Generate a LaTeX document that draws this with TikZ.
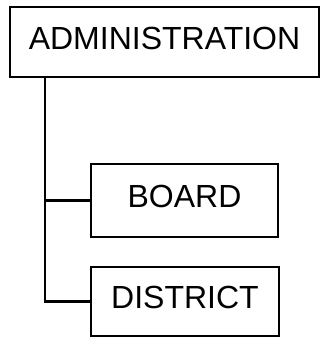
\documentclass[tikz,border=0pt]{standalone}
\usepackage{fontspec}
\setmainfont{Liberation Sans}
\tikzset{
  orgbox/.style={draw=black, line width=2.2pt, inner sep=0pt, font=\fontsize{32}{32}\selectfont, text depth=8pt},
  link/.style={draw=black, line width=2.4pt}
}
\begin{document}
\begin{tikzpicture}[x=1pt,y=-1pt]
\useasboundingbox (0,0) rectangle (321,337);
\node[orgbox, minimum width=309pt, minimum height=70pt] (admin) at (164.5,42) {ADMINISTRATION};
\node[orgbox, minimum width=187pt, minimum height=73pt] (board) at (184.5,200.5) {BOARD};
\node[orgbox, minimum width=188pt, minimum height=69pt] (district) at (185,301.5) {DISTRICT};
\coordinate (trunk) at (45,77);
\draw[link] (trunk) |- (district.west);
\draw[link] (trunk |- board.west) -- (board.west);
\end{tikzpicture}
\end{document}
